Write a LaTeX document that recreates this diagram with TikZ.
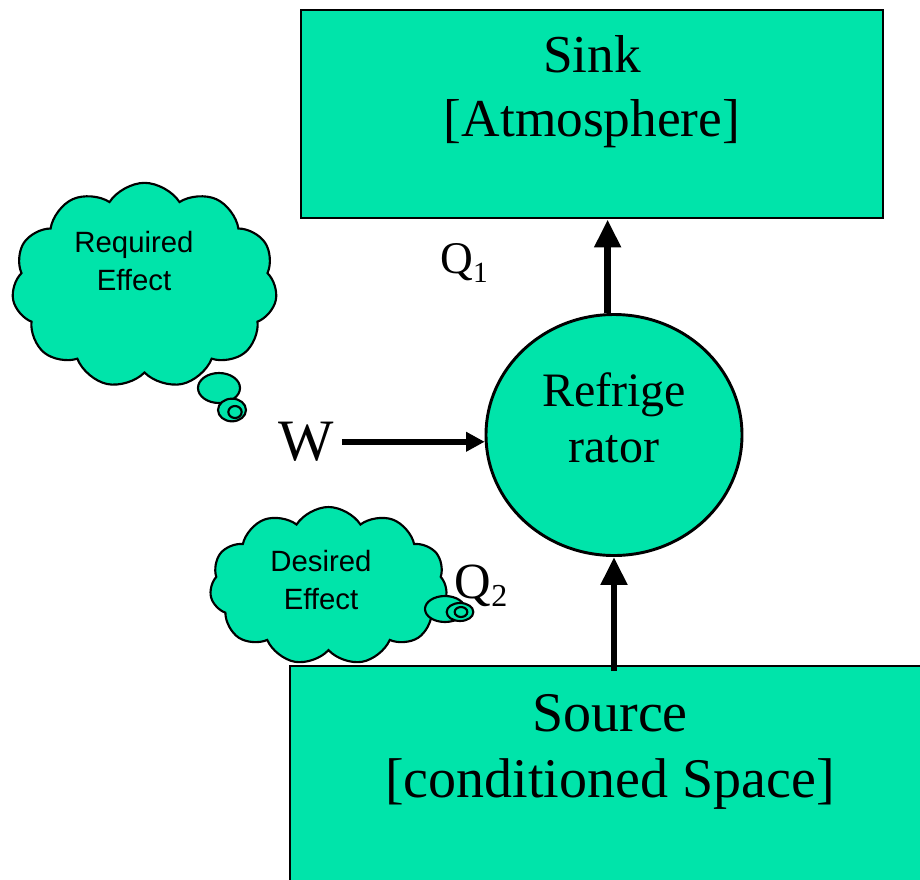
\documentclass[tikz,border=0pt]{standalone}
\usepackage{fontspec}
\setmainfont{Liberation Serif}
\newfontfamily\cloudfont{Liberation Sans}
\usetikzlibrary{arrows.meta,shapes.geometric,shapes.symbols}
\definecolor{fillgreen}{RGB}{0,228,170}

\begin{document}
\begin{tikzpicture}[x=0.75pt,y=0.75pt,yscale=-1,xscale=1,
  box/.style={draw=black,line width=2.2pt,fill=fillgreen,inner sep=0pt},
  puff/.style={cloud,cloud puffs=11,cloud puff arc=115,cloud ignores aspect,draw=black,line width=1.6pt,fill=fillgreen,inner sep=0pt},
  bubble/.style={ellipse,draw=black,line width=1.6pt,fill=fillgreen,inner sep=0pt},
  flow/.style={line width=5.2pt,-{Triangle[width=19pt,length=21pt]}},
  wflow/.style={line width=4.4pt,-{Triangle[width=14pt,length=14pt]}},
  boxtext/.style={font=\fontsize{40}{48}\selectfont,align=center,inner sep=0pt},
  cloudtext/.style={font=\cloudfont\fontsize{22}{28.5}\selectfont,align=center,inner sep=0pt}]
\useasboundingbox (0,0) rectangle (920,879);
\clip (0,0) rectangle (920,879);

%Shape: Sink box
\node[box,minimum width=436.5pt,minimum height=156pt] (sink) at (592,114) {};
\node[boxtext] (sinktext) at (592,92) {Sink\\{[Atmosphere]}};

%Shape: Required Effect cloud
\node[puff,minimum width=199pt,minimum height=154pt] (reqcloud) at (144.5,285.5) {};
\node[bubble,minimum width=31.5pt,minimum height=22.5pt] (reqbub) at (219,388) {};
\node[bubble,minimum width=21pt,minimum height=17pt] (reqring) at (232,410) {};
\node[bubble,minimum width=10pt,minimum height=9pt] (reqdot) at (235,412) {};
\node[cloudtext] (reqtext) at (134,261) {Required\\Effect};

%Shape: Desired Effect cloud
\node[puff,minimum width=178pt,minimum height=118.5pt] (descloud) at (328.5,586) {};
\node[bubble,minimum width=30pt,minimum height=19.5pt] (desbub) at (445,609) {};
\node[bubble,minimum width=20pt,minimum height=13.5pt] (desring) at (460,612) {};
\node[bubble,minimum width=9.5pt,minimum height=7.5pt] (desdot) at (461,612) {};
\node[cloudtext] (destext) at (321,580) {Desired\\Effect};

%Shape: Source box
\node[box,minimum width=476.25pt,minimum height=164.25pt] (source) at (607.5,775.5) {};
\node[boxtext,font=\fontsize{42}{50}\selectfont] (sourcetext) at (610,752) {Source\\{[conditioned Space]}};

%Shape: Refrigerator
\node[ellipse,draw=black,line width=2.2pt,fill=fillgreen,minimum width=192pt,minimum height=180.75pt,inner sep=0pt] (fridge) at (614,435) {};
\node[font=\fontsize{36}{42}\selectfont,align=center,inner sep=0pt] (fridgetext) at (614,418) {Refrige\\rator};

% Text Node
\node[font=\fontsize{44}{44}\selectfont,inner sep=0pt] (w) at (306,442) {W};
% Text Node
\node[font=\fontsize{34}{34}\selectfont,inner sep=0pt] (qone) at (464,263) {Q\raisebox{-7pt}{\fontsize{22}{22}\selectfont 1}};
% Text Node
\node[font=\fontsize{38}{38}\selectfont,inner sep=0pt] (qtwo) at (481,586) {Q\raisebox{-6pt}{\fontsize{24}{24}\selectfont 2}};

%Straight Lines
\draw[flow] (fridge.93) -- (fridge.93 |- sink.south);
\draw[flow,shorten <=-5pt] (fridge.south |- source.north) -- (fridge.south);
\draw[wflow] ([xshift=6pt]w.east |- fridge.183) -- (fridge.183);

\end{tikzpicture}
\end{document}
